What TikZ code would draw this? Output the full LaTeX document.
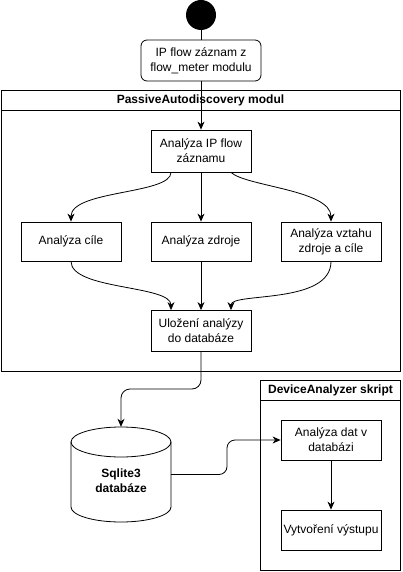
\documentclass[tikz,border=0pt]{standalone}
\usepackage{fontspec}
\setmainfont{Liberation Sans}
\usetikzlibrary{shapes.geometric,arrows.meta,calc}
\begin{document}
\begin{tikzpicture}[x=1pt,y=-1pt,
  every node/.style={font=\fontsize{12}{15}\selectfont},
  box/.style={draw,line width=0.8pt,minimum width=100pt,minimum height=40pt,inner sep=0pt,align=center,fill=white},
  cont/.style={draw,line width=0.8pt,inner sep=0pt},
  hdr/.style={draw,line width=0.8pt,inner sep=0pt,font=\bfseries\fontsize{12}{15}\selectfont},
  arr/.style={line width=0.8pt,-{Stealth[length=8pt,width=7pt,inset=2.5pt]}},
  ln/.style={line width=0.8pt}
]
\useasboundingbox (0,0) rectangle (402,572);
% start
\node[circle,fill=black,minimum size=30pt,inner sep=0pt] (start) at (201,15) {};
\node[box,rounded corners=6pt,minimum width=120pt,minimum height=41pt] (ip) at (201,60.5) {IP flow záznam z\\flow\_meter modulu};
% PassiveAutodiscovery container
\node[cont,minimum width=399pt,minimum height=281pt] (pad) at (200.5,230.5) {};
\node[hdr,minimum width=399pt,minimum height=20pt] (padh) at (200.5,100) {PassiveAutodiscovery modul};
\node[box,minimum height=42pt] (a0) at (201,151) {Analýza IP flow\\záznamu};
\node[box,minimum height=39pt] (a1) at (71,241.5) {Analýza cíle};
\node[box,minimum height=39pt] (a2) at (201,241.5) {Analýza zdroje};
\node[box,minimum height=39pt] (a3) at (331,241.5) {Analýza vztahu\\zdroje a cíle};
\node[box,minimum height=41pt] (ul) at (201,331) {Uložení analýzy\\do databáze};
% database (cylinder drawn by hand)
\node[inner sep=0pt,minimum width=100pt,minimum height=95pt] (db) at (121,474.5) {};
\draw[ln] (121,442) ellipse [x radius=50pt, y radius=15pt];
\draw[ln] (71,442) -- (71,507)
  .. controls (71,515.3) and (93.4,522) .. (121,522)
  .. controls (148.6,522) and (171,515.3) .. (171,507) -- (171,442);
\node[align=center,inner sep=0pt,font=\bfseries\fontsize{12}{15}\selectfont] (dbl) at (121,480.5) {Sqlite3\\databáze};
% DeviceAnalyzer container
\node[cont,minimum width=140pt,minimum height=190pt] (dac) at (330.5,475) {};
\node[hdr,minimum width=140pt,minimum height=20pt] (dah) at (330.5,390) {DeviceAnalyzer skript};
\node[box] (ad) at (331,440) {Analýza dat v\\databázi};
\node[box] (vy) at (331,530) {Vytvoření výstupu};
% connectors
\draw[ln] (start) -- (ip);
\draw[arr] (ip) -- (a0);
\draw[arr] ([xshift=-30pt]a0.south) .. controls ++(0,22) and (71,190) .. (a1.north);
\draw[arr] (a0) -- (a2);
\draw[arr] ([xshift=30pt]a0.south) .. controls ++(15,14) and (331,190) .. (a3.north);
\draw[arr] (a1.south) .. controls (71,290) and (171,285) .. ([xshift=-30pt]ul.north);
\draw[arr] (a2) -- (ul);
\draw[arr] (a3.south) .. controls (331,305) and (231,292) .. ([xshift=30pt]ul.north);
\draw[arr,rounded corners=9pt] (ul.south) -- (201,389) -- (121,389) -- (db.north);
\draw[arr,rounded corners=8pt] (db.east) -- (227,474.5) -- (227,440) -- (ad.west);
\draw[arr] (ad) -- (vy);
\end{tikzpicture}
\end{document}
